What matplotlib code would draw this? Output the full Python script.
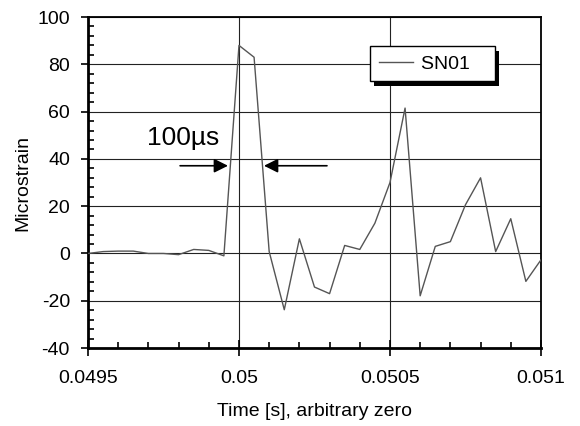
import numpy as np
import matplotlib
matplotlib.use("Agg")
import matplotlib.pyplot as plt
import matplotlib.patheffects as pe
from matplotlib.ticker import FixedLocator, MultipleLocator

# =====================================================
# Data (50 us sampling)
# =====================================================

t_start = 0.0495
t_step = 0.00005

strain = [
    0, 0.8, 1, 1, 0, 0, -0.5, 1.7, 1.3, -1,
    88, 83, 0.8, -23.8, 6.2, -14.2, -17, 3.4, 1.7, 12.8,
    30, 61.5, -17.9, 3, 5, 20.6, 32, 0.8, 14.7, -11.8,
    -2.7,
]

time = [t_start + i * t_step for i in range(len(strain))]

x_ticks = [0.0495, 0.05, 0.0505, 0.051]
x_tick_labels = ["0.0495", "0.05", "0.0505", "0.051"]
y_ticks = [-40, -20, 0, 20, 40, 60, 80, 100]

series_name = "SN01"
pulse_label = "100\u00b5s"

# =====================================================
# Figure
# =====================================================

plt.rcParams["font.family"] = ["Liberation Sans", "DejaVu Sans"]
plt.rcParams["axes.unicode_minus"] = False

fig = plt.figure(figsize=(5.8, 4.26), dpi=100)
ax = fig.add_axes([0.1517, 0.183, 0.781, 0.777])

ax.plot(time, strain, color="#555555", lw=1.0, label=series_name, zorder=3)

ax.set_xlim(x_ticks[0], x_ticks[-1])
ax.set_ylim(y_ticks[0], y_ticks[-1])

ax.xaxis.set_major_locator(FixedLocator(x_ticks))
ax.set_xticklabels(x_tick_labels)
ax.xaxis.set_minor_locator(MultipleLocator(0.0001))
ax.yaxis.set_major_locator(FixedLocator(y_ticks))
ax.yaxis.set_minor_locator(MultipleLocator(4))

ax.grid(True, which="major", color="#222222", lw=0.8, zorder=1)

ax.tick_params(axis="x", which="major", direction="inout", length=12,
               width=1.2, labelsize=14, pad=10)
ax.tick_params(axis="y", which="major", direction="out", length=5,
               width=1.2, labelsize=14, pad=8)
ax.tick_params(which="minor", direction="in", length=4, width=1.2)

for side in ["left", "bottom"]:
    ax.spines[side].set_linewidth(2)
for side in ["top", "right"]:
    ax.spines[side].set_linewidth(1.3)

ax.set_xlabel("Time [s], arbitrary zero", fontsize=14, va="top")
ax.xaxis.set_label_coords(0.5, -0.166)
ax.set_ylabel("Microstrain", fontsize=14)
ax.yaxis.set_label_coords(-0.124, 0.5)

# =====================================================
# Pulse width annotation
# =====================================================

ax.text(0.0496944, 46, pulse_label, fontsize=19,
        ha="left", va="baseline", zorder=4)

arrow_style = dict(arrowstyle="-|>,head_length=0.6,head_width=0.3",
                   color="black", lw=1.2, mutation_scale=14,
                   shrinkA=0, shrinkB=0)
ax.annotate("", xy=(0.0499636, 37.1), xytext=(0.049805, 37.1),
            arrowprops=arrow_style, zorder=4)
ax.annotate("", xy=(0.0500828, 37.1), xytext=(0.0502914, 37.1),
            arrowprops=arrow_style, zorder=4)

# =====================================================
# Legend
# =====================================================

leg = ax.legend([ax.lines[0]], [series_name + "   "],
                loc="upper left", bbox_to_anchor=(0.6225, 0.912),
                fontsize=14, frameon=True, fancybox=False,
                handlelength=1.75, handletextpad=0.45,
                borderpad=0.45, borderaxespad=0)
frame = leg.get_frame()
frame.set_edgecolor("black")
frame.set_linewidth(1.0)
frame.set_alpha(1.0)
frame.set_path_effects([
    pe.SimplePatchShadow(offset=(3, -3.5), shadow_rgbFace="black", alpha=1.0),
    pe.Normal(),
])

fig.savefig("out.png", dpi=100)
